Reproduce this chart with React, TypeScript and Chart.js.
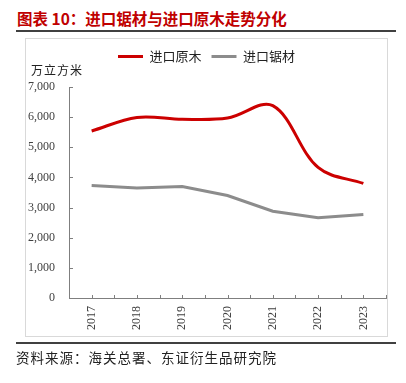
import React, { useEffect, useRef } from "react";
import { Chart, registerables } from "chart.js";

Chart.register(...registerables);

const years = ["2017", "2018", "2019", "2020", "2021", "2022", "2023"];
const logImports = [5540, 5990, 5930, 5970, 6380, 4330, 3800];
const lumberImports = [3730, 3650, 3700, 3400, 2880, 2660, 2770];
const seriesNames = ["进口原木", "进口锯材"];
const yTickMax = 7000;
const yTickStep = 1000;

const CJK = '"Noto Sans CJK SC", "Noto Sans", sans-serif';
const SERIF = '"Liberation Serif", "DejaVu Serif", serif';

const innerTicks = {
  id: "innerTicks",
  afterDraw(chart: any) {
    const ctx = chart.ctx;
    const x = chart.scales.x;
    const y = chart.scales.y;
    const area = chart.chartArea;
    ctx.save();
    ctx.strokeStyle = "#7f7f7f";
    ctx.lineWidth = 1;
    ctx.beginPath();
    y.ticks.forEach((t: any) => {
      const py = Math.round(y.getPixelForValue(t.value)) + 0.5;
      ctx.moveTo(area.left, py);
      ctx.lineTo(area.left + 4, py);
    });
    const n = years.length;
    const pts: number[] = [];
    for (let i = 0; i < n; i++) {
      pts.push(x.getPixelForValue(i));
      if (i < n - 1) pts.push((x.getPixelForValue(i) + x.getPixelForValue(i + 1)) / 2);
    }
    pts.push(area.right);
    pts.forEach((px) => {
      const rx = Math.round(px) + 0.5;
      ctx.moveTo(rx, area.bottom);
      ctx.lineTo(rx, area.bottom - 3);
    });
    ctx.stroke();
    ctx.restore();
  },
};

const legendHeight = {
  id: "legendHeight",
  beforeInit(chart: any) {
    const legend = chart.legend;
    if (!legend) return;
    const orig = legend.fit;
    legend.fit = function () {
      orig.call(this);
      this.height = 47;
    };
  },
};

export default function App() {
  const ref = useRef<HTMLCanvasElement | null>(null);
  useEffect(() => {
    if (!ref.current) return;
    const chart = new Chart(ref.current, {
      type: "line",
      data: {
        labels: years,
        datasets: [
          {
            label: seriesNames[0],
            data: logImports,
            borderColor: "#cc0000",
            backgroundColor: "#cc0000",
            borderWidth: 3,
            tension: 0.35,
            pointRadius: 0,
            fill: false,
          },
          {
            label: seriesNames[1],
            data: lumberImports,
            borderColor: "#8c8c8c",
            backgroundColor: "#8c8c8c",
            borderWidth: 3,
            tension: 0,
            pointRadius: 0,
            fill: false,
          },
        ],
      },
      options: {
        animation: false,
        responsive: false,
        maintainAspectRatio: false,
        layout: { padding: { left: 27, right: 20, top: 40, bottom: 45 } },
        plugins: {
          tooltip: { enabled: false },
          legend: {
            position: "top",
            labels: {
              boxWidth: 25,
              boxHeight: 3,
              padding: 10,
              color: "#222222",
              font: { family: CJK, size: 13 },
              generateLabels(c: any) {
                return c.data.datasets.map((d: any, i: number) => ({
                  text: d.label,
                  fillStyle: d.borderColor,
                  strokeStyle: d.borderColor,
                  lineWidth: 0,
                  hidden: false,
                  datasetIndex: i,
                  fontColor: "#222222",
                }));
              },
            },
          },
        },
        scales: {
          x: {
            offset: true,
            grid: { display: false, drawTicks: false },
            border: { display: true, color: "#7f7f7f", width: 1 },
            ticks: {
              minRotation: 90,
              maxRotation: 90,
              padding: 8,
              color: "#404040",
              font: { family: SERIF, size: 12 },
            },
            afterFit(s: any) {
              s.height = 40;
            },
          },
          y: {
            min: 0,
            max: yTickMax,
            grid: { display: false, drawTicks: false },
            border: { display: true, color: "#7f7f7f", width: 1 },
            ticks: {
              stepSize: yTickStep,
              padding: 14,
              color: "#404040",
              font: { family: SERIF, size: 12 },
              callback: (v: any) => Number(v).toLocaleString("en-US"),
            },
            afterFit(s: any) {
              s.width = 42;
            },
          },
        },
      },
      plugins: [innerTicks, legendHeight],
    });
    return () => chart.destroy();
  }, []);

  return (
    <div style={{ position: "absolute", left: 0, top: 0, width: 406, height: 383, background: "#fff", overflow: "hidden" }}>
      <div
        style={{
          position: "absolute",
          left: 17,
          top: 8,
          fontFamily: CJK,
          fontWeight: 700,
          fontSize: 15.5,
          color: "#c00000",
          whiteSpace: "nowrap",
          lineHeight: "20px",
        }}
      >
        图表 10：进口锯材与进口原木走势分化
      </div>
      <div style={{ position: "absolute", left: 16, top: 30, width: 380, height: 2, background: "#404040" }} />
      <div
        style={{
          position: "absolute",
          left: 25,
          top: 38,
          width: 361,
          height: 297,
          border: "1px solid #d9d9d9",
        }}
      />
      <canvas ref={ref} width={406} height={383} style={{ position: "absolute", left: 0, top: 0, width: 406, height: 383 }} />
      <div
        style={{
          position: "absolute",
          left: 31,
          top: 62,
          fontFamily: CJK,
          fontSize: 12,
          letterSpacing: 1,
          color: "#222",
          whiteSpace: "nowrap",
          lineHeight: "16px",
        }}
      >
        万立方米
      </div>
      <div style={{ position: "absolute", left: 16, top: 342, width: 380, height: 2, background: "#404040" }} />
      <div
        style={{
          position: "absolute",
          left: 16,
          top: 348,
          fontFamily: CJK,
          fontSize: 13.5,
          color: "#222",
          whiteSpace: "nowrap",
          lineHeight: "18px",
          letterSpacing: 1,
        }}
      >
        资料来源：海关总署、东证衍生品研究院
      </div>
    </div>
  );
}
